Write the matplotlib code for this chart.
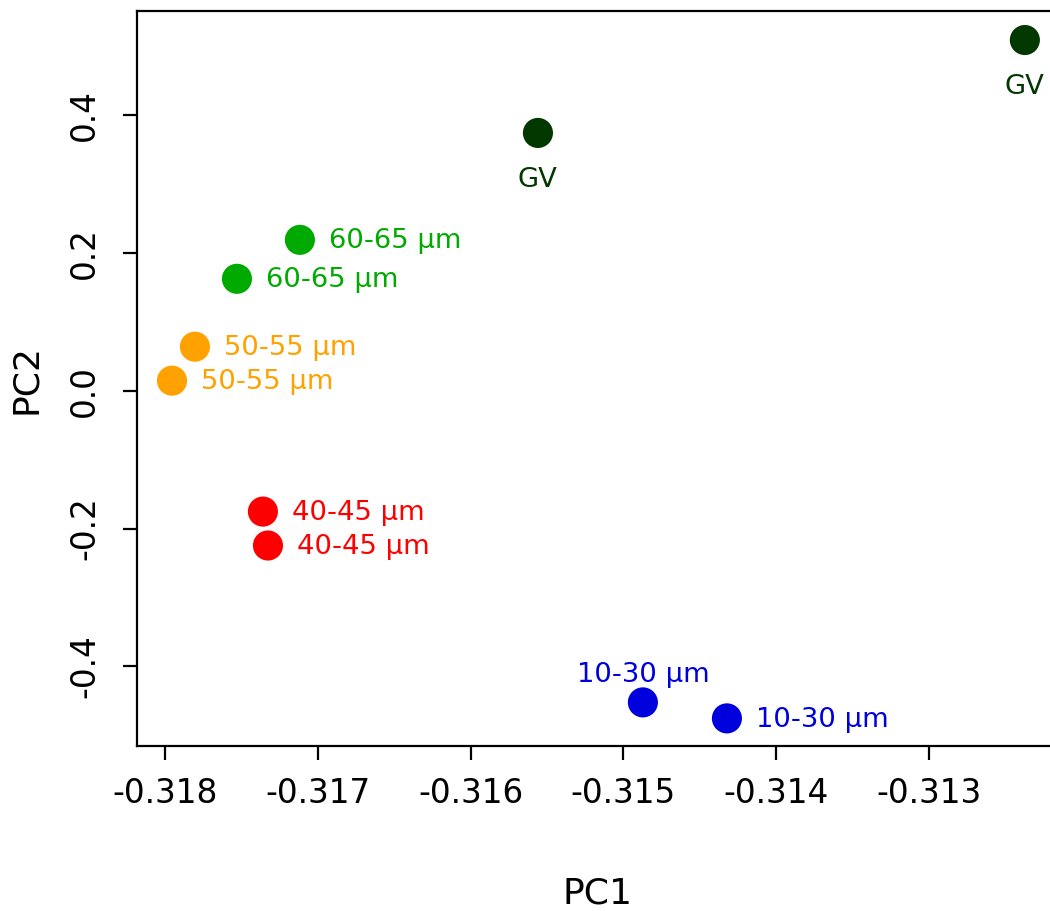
import matplotlib.pyplot as plt

# PCA scores per sample
pc1 = [-0.315559, -0.312372, -0.317117, -0.317529, -0.317804,
       -0.317954, -0.317359, -0.317326, -0.314872, -0.314322]
pc2 = [0.3739, 0.5087, 0.2188, 0.1623, 0.0638,
       0.0145, -0.1754, -0.2246, -0.4522, -0.4754]
labels = ["GV", "GV", "60-65 µm", "60-65 µm", "50-55 µm",
          "50-55 µm", "40-45 µm", "40-45 µm", "10-30 µm", "10-30 µm"]
colors = ["#003800", "#003800", "#00aa00", "#00aa00", "#ffa200",
          "#ffa200", "#ff0000", "#ff0000", "#0000dd", "#0000dd"]
# where the label goes relative to the point: below, above or right
label_pos = ["below", "below", "right", "right", "right",
             "right", "right", "right", "above", "right"]

plt.rcParams['font.family'] = ['DejaVu Sans']

fig = plt.figure(figsize=(10.5, 9.11), dpi=100)
ax = fig.add_axes([0.1305, 0.1811, 0.878, 0.8066])

ax.scatter(pc1, pc2, s=470, c=colors, edgecolors='none', zorder=3)

for x, y, lab, col, pos in zip(pc1, pc2, labels, colors, label_pos):
    if pos == "right":
        off, ha, va = (21, 1), 'left', 'center_baseline'
    elif pos == "below":
        off, ha, va = (0, -32), 'center', 'center_baseline'
    else:
        off, ha, va = (0, 22), 'center', 'center_baseline'
    ax.annotate(lab, (x, y), xytext=off, textcoords='offset points',
                ha=ha, va=va, color=col, fontsize=19.7)

ax.set_xlim(-0.318183, -0.312149)
ax.set_ylim(-0.5155, 0.5505)
ax.set_xticks([-0.318, -0.317, -0.316, -0.315, -0.314, -0.313])
ax.set_xticklabels(["-0.318", "-0.317", "-0.316", "-0.315", "-0.314", "-0.313"])
ax.set_yticks([-0.4, -0.2, 0.0, 0.2, 0.4])
ax.set_yticklabels(["-0.4", "-0.2", "0.0", "0.2", "0.4"])

ax.tick_params(axis='both', length=10, width=1.6, labelsize=23.5, direction='out')
ax.tick_params(axis='x', pad=12)
ax.tick_params(axis='y', pad=16)
for t in ax.get_yticklabels():
    t.set_rotation(90)
    t.set_va('center')

for sp in ax.spines.values():
    sp.set_linewidth(1.6)

ax.set_xlabel("PC1", fontsize=26, labelpad=48)
ax.set_ylabel("PC2", fontsize=26, labelpad=18)

fig.savefig("out.png", dpi=100)
